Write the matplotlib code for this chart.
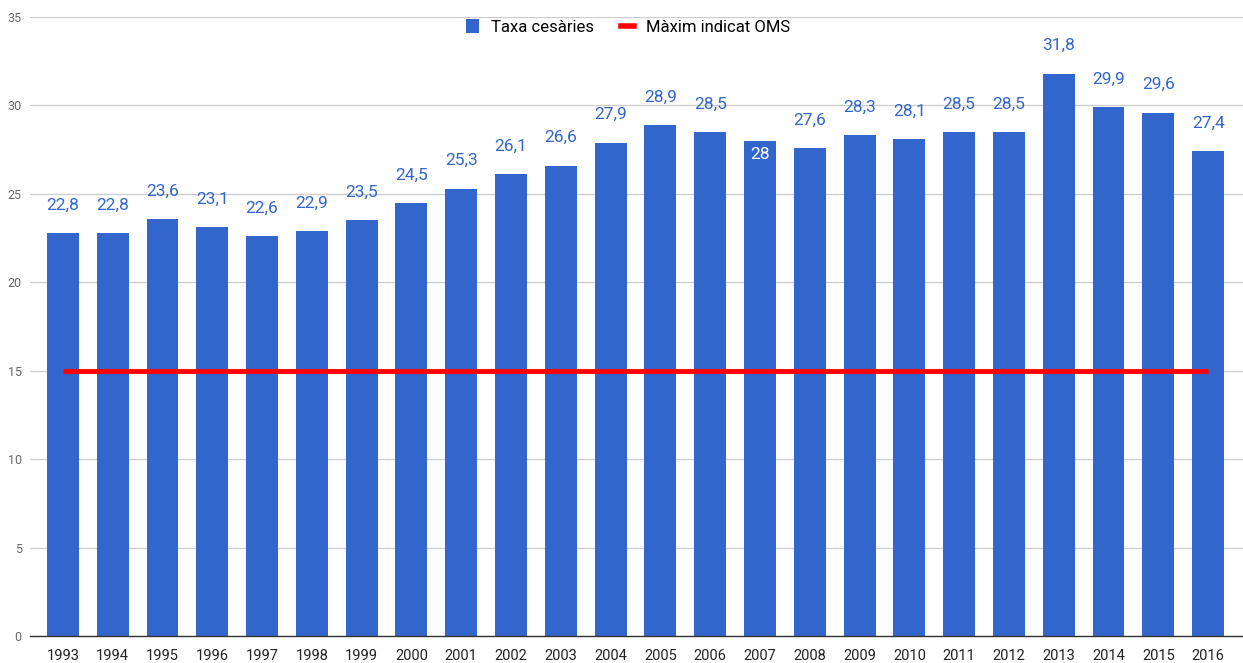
import numpy as np
import matplotlib
matplotlib.use('Agg')
import matplotlib.pyplot as plt
from matplotlib.lines import Line2D
from matplotlib.patches import Patch

plt.rcParams['font.family'] = ['Roboto', 'DejaVu Sans']

years = [str(y) for y in range(1993, 2017)]
rates = [22.8, 22.8, 23.6, 23.1, 22.6, 22.9, 23.5, 24.5, 25.3, 26.1, 26.6, 27.9,
         28.9, 28.5, 28.0, 27.6, 28.3, 28.1, 28.5, 28.5, 31.8, 29.9, 29.6, 27.4]
who_max = [15] * len(years)
y_ticks = [0, 5, 10, 15, 20, 25, 30, 35]

BLUE = '#3366CC'
RED = '#FF0000'

fig = plt.figure(figsize=(12.43, 6.63), dpi=100)
ax = fig.add_axes([30 / 1243, 27 / 663, 1 - 30 / 1243, (636 - 17) / 663])

x = np.arange(len(years))
bars = ax.bar(x, rates, width=0.64, color=BLUE, zorder=2)
ax.plot(x, who_max, color=RED, linewidth=3.5, solid_capstyle='butt', zorder=3)

# value labels, comma as decimal separator
for xi, v in zip(x, rates):
    txt = f'{v:.1f}'.replace('.', ',') if v != int(v) else str(int(v))
    if txt == '28':
        ax.annotate(txt, (xi, v), xytext=(0, -10), textcoords='offset points',
                    ha='center', va='center', color='white', fontsize=12.5, zorder=4)
    else:
        ax.annotate(txt, (xi, v), xytext=(0, 20), textcoords='offset points',
                    ha='center', va='center', color=BLUE, fontsize=12.5, zorder=4)

ax.set_xlim(-0.66, len(years) - 1 + 0.7)
ax.set_ylim(0, 35)
ax.set_yticks(y_ticks)
ax.set_xticks(x)
ax.set_xticklabels(years)
ax.tick_params(axis='y', length=0, labelsize=9, colors='#666666', pad=6)
ax.tick_params(axis='x', length=0, labelsize=10.5, colors='#222222', pad=9)
ax.grid(axis='y', color='#cccccc', linewidth=0.9, zorder=0)
ax.set_axisbelow(True)
for s in ['top', 'right', 'left']:
    ax.spines[s].set_visible(False)
ax.spines['bottom'].set_color('#333333')
ax.spines['bottom'].set_linewidth(1.0)
ax.spines['bottom'].set_zorder(5)

handles = [Patch(facecolor=BLUE, label='Taxa cesàries'),
           Line2D([0], [0], color=RED, linewidth=4, label='Màxim indicat OMS')]
fig.legend(handles=handles, loc='center', bbox_to_anchor=(628 / 1243, 1 - 27 / 663),
           ncol=2, frameon=False, fontsize=12, handlelength=0.8, handleheight=0.9,
           columnspacing=1.6, handletextpad=0.7)

fig.savefig('out.png', dpi=100)
